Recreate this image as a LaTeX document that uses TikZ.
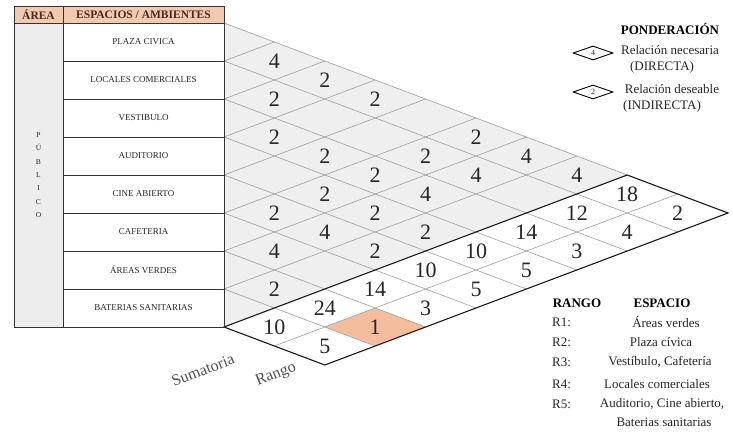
\documentclass[tikz,border=0pt]{standalone}
\usepackage{fontspec}
\setmainfont{Liberation Serif}
\usetikzlibrary{shapes.geometric}
\definecolor{hdrfill}{HTML}{F2C9B1}
\definecolor{hdrtext}{HTML}{4A2A20}
\definecolor{areafill}{HTML}{EDEDED}
\definecolor{trifill}{HTML}{EFEFEF}
\definecolor{gridc}{HTML}{9E9E9E}
\definecolor{orangec}{HTML}{F4BE9E}
\definecolor{inkc}{HTML}{262626}
\definecolor{tablec}{HTML}{333333}
\tikzset{
  gridline/.style={draw=gridc, line width=0.6pt},
  outline/.style={draw=black!90, line width=1.1pt},
  tableline/.style={draw=tablec, line width=0.8pt},
  num/.style={inner sep=0pt, text=inkc, font=\fontsize{22}{22}\selectfont},
  cellbox/.style={inner sep=0pt, minimum width=161pt, minimum height=38pt, text=inkc, font=\fontsize{9}{9}\selectfont},
  hdrtxt/.style={inner sep=0pt, text=hdrtext, font=\bfseries\fontsize{11.5}{11.5}\selectfont},
  lg/.style={inner sep=0pt, text=inkc, font=\fontsize{13}{13}\selectfont},
  lgb/.style={inner sep=0pt, text=black, font=\bfseries\fontsize{13}{13}\selectfont},
  axislab/.style={inner sep=0pt, text=inkc!80, rotate=21, font=\fontsize{16}{16}\selectfont},
  legdia/.style={diamond, draw=black, line width=0.9pt, inner sep=0pt, minimum width=40pt, minimum height=14pt, aspect=2.9, text=inkc, font=\fontsize{8}{8}\selectfont},
}
\begin{document}
\begin{tikzpicture}[x=1pt,y=-1pt]
\useasboundingbox (0,0) rectangle (733,436);
% grid coordinates
\foreach \a in {0,...,8}{
  \foreach \b in {\a,...,10}{
    \coordinate (g-\a-\b) at ({224+50.4*(\b-\a)},{23+19*(\a+\b)});
  }
}
% fills
\fill[trifill] (g-0-0) -- (g-0-8) -- (g-8-8) -- cycle;
\fill[orangec] (g-6-9) -- (g-7-9) -- (g-7-10) -- (g-6-10) -- cycle;
% grid lines
\foreach \k in {1,...,7}{
  \draw[gridline] (g-\k-\k) -- (g-\k-10);
  \draw[gridline] (g-\k-\k) -- (g-0-\k);
}
\draw[gridline] (g-8-9) -- (g-0-9);
\draw[gridline] (g-0-0) -- (g-0-8);
\draw[outline] (g-8-8) -- (g-0-8) -- (g-0-10) -- (g-8-10) -- cycle;
% table
\fill[hdrfill] (14,6) rectangle (224,23);
\fill[areafill] (14,23) rectangle (63,327);
\draw[tableline] (14,6) rectangle (224,327);
\draw[tableline] (63,6) -- (63,327);
\draw[tableline] (14,23) -- (224,23);
\node[hdrtxt] (harea) at (38.5,15) {ÁREA};
\node[hdrtxt] (hesp) at (143.5,15) {ESPACIOS / AMBIENTES};
\foreach \r/\t in {1/PLAZA CIVICA,2/LOCALES COMERCIALES,3/VESTIBULO,4/AUDITORIO,5/CINE ABIERTO,6/CAFETERIA,7/ÁREAS VERDES,8/BATERIAS SANITARIAS}{
  \node[cellbox] (row\r) at (143.5,{23+38*(\r-0.5)}) {\t};
}
\foreach \r in {1,...,7}{
  \draw[tableline] (63,{23+38*\r}) -- (224,{23+38*\r});
}
\node[inner sep=0pt, text=inkc, align=center, font=\fontsize{7.5}{13.3}\selectfont] (pub) at (38.5,175) {P\\Ú\\B\\L\\I\\C\\O};
% numbers
\foreach \i/\j/\v in {1/2/4,1/3/2,1/4/2,1/6/2,1/7/4,1/8/4,
  2/3/2,2/6/2,2/7/4,
  3/4/2,3/5/2,3/6/2,3/7/4,
  4/6/2,4/7/2,4/8/2,
  5/6/2,5/7/4,5/8/2,
  6/7/4,7/8/2,
  1/9/18,2/9/12,3/9/14,4/9/10,5/9/10,6/9/14,7/9/24,8/9/10,
  1/10/2,2/10/4,3/10/3,4/10/5,5/10/5,6/10/3,7/10/1,8/10/5}{
  \node[num] (c-\i-\j) at ({224+50.4*(\j-\i)},{23+19*(\i+\j-1)}) {\v};
}
% axis labels
\node[axislab] (sumlab) at (203,370) {Sumatoria};
\node[axislab] (ranlab) at (276,375) {Rango};
% legend top
\node[lgb] (pond) at (670,29) {PONDERACIÓN};
\node[legdia] (d1) at (593,53) {4};
\node[lg] (rn) at (670,50) {Relación necesaria};
\node[lg] (dir) at (662,67) {(DIRECTA)};
\node[legdia] (d2) at (593,92) {2};
\node[lg] (rd) at (672,89) {Relación deseable};
\node[lg] (ind) at (662,106) {(INDIRECTA)};
% legend bottom
\node[lgb] (rango) at (577,303) {RANGO};
\node[lgb] (espacio) at (662,303) {ESPACIO};
\foreach \n/\y/\x/\t in {1/322/666/Áreas verdes,2/342/661/Plaza cívica,3/362/660/{Vestíbulo, Cafetería},4/384/657/Locales comerciales,5/404/662/{Auditorio, Cine abierto,}}{
  \node[lg, anchor=west] (rl\n) at (552,\y) {R\n:};
  \node[lg] (sp\n) at (\x,\y) {\t};
}
\node[lg] (sp6) at (664,422) {Baterias sanitarias};
\end{tikzpicture}
\end{document}
